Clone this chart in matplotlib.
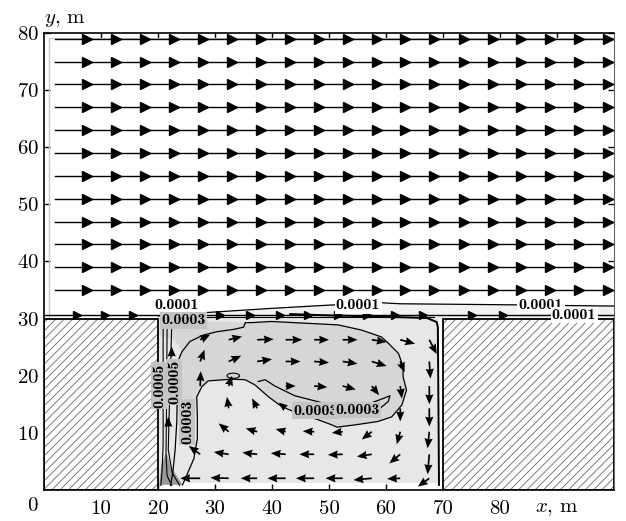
import numpy as np
import matplotlib.pyplot as plt
from matplotlib.patches import Rectangle, Polygon

plt.rcParams['font.family'] = 'serif'
plt.rcParams['font.serif'] = ['cmr10']
plt.rcParams['mathtext.fontset'] = 'cm'
plt.rcParams['axes.formatter.use_mathtext'] = True
plt.rcParams['hatch.linewidth'] = 0.6

# free-stream lines above the street canyon (y, m) and arrow marks along them (x, m)
stream_y = [79, 75, 71, 67, 63, 59, 55, 51, 47, 43, 39, 35]
stream_x0 = 1.9
stream_arrows_x = [7.6, 12.7, 17.8, 22.8, 27.9, 33.0, 38.1, 43.1, 48.2, 53.3,
                   58.4, 63.4, 68.5, 73.6, 78.7, 83.7, 88.8, 93.9, 98.9]
shear_y = 30.7
shear_arrows_x = [5.8, 10.7, 15.6, 30.9, 36.1, 41.4, 46.3, 51.6, 56.7, 61.6, 66.5, 75.1, 80.5]

# velocity vectors inside the canyon (tail points, components in m)
grid_x = [27.4, 32.4, 37.4, 42.4, 47.4, 52.4, 57.5, 62.5, 67.6]
grid_y = [26.3, 22.5, 18.2, 14.3, 10.2, 6.25, 2.05]
nan = np.nan
u = [
    [1.75, 2.34, 2.9, 2.9, 2.6, 2.6, 2.6, 2.6, 1.3],
    [0.76, 2.2, 2.6, 2.6, 2.6, 2.6, 2.6, 0.76, 0.2],
    [0.1, 0.6, nan, 1.75, 2.3, 2.3, 1.3, 0.3, 0.0],
    [nan, -0.3, -0.9, -1.2, nan, nan, nan, 0.0, 0.0],
    [nan, -1.75, -2.0, -1.75, -2.0, -1.9, -1.75, -0.6, -0.3],
    [-2.0, -2.6, -2.6, -2.6, -2.6, -2.6, -2.6, -1.9, -0.3],
    [-3.5, -3.2, -2.9, -3.2, -3.2, -3.0, -3.2, -2.3, -2.0],
]
v = [
    [0.88, 0.58, 0.1, 0.0, 0.0, 0.0, -0.4, -0.7, -2.5],
    [2.05, 1.0, 0.4, 0.0, -0.2, -0.4, -0.8, -1.9, -3.0],
    [2.6, 1.8, nan, 0.0, -0.2, -0.6, -1.6, -2.2, -3.2],
    [nan, 2.0, 1.75, 1.0, nan, nan, nan, -2.3, -3.2],
    [nan, 1.46, 0.58, 0.47, 0.1, -0.2, -1.35, -2.2, -2.9],
    [1.46, 0.4, 0.3, 0.2, 0.0, -0.1, -0.4, -1.6, -3.5],
    [0.0, 0.1, 0.0, 0.0, 0.0, 0.0, -0.3, -0.1, -1.46],
]
wall_x = [22.4, 21.8]
wall_y = [23.3, 11.0]
wall_u = [0.0, 0.0]
wall_v = [1.8, 1.8]

# concentration isolines (x, y in m)
iso_upper = [(20.0, 30.5), (27.5, 31.0), (40.0, 31.8), (50.7, 32.4), (58.8, 32.8),
             (62.5, 32.6), (83.9, 32.4), (90.5, 32.3), (100.0, 32.2)]
iso_blob = [(35.3, 29.3), (36.4, 29.3), (39.9, 29.5), (45.8, 29.2), (51.6, 28.9),
            (55.7, 28.0), (59.2, 26.8), (60.4, 25.7), (62.2, 23.9), (63.0, 21.6),
            (63.0, 19.8), (63.6, 17.5), (62.8, 14.9), (61.0, 12.8), (58.6, 12.0),
            (54.6, 11.4), (51.4, 11.0), (50.5, 11.4), (48.1, 12.3), (44.6, 13.4),
            (41.7, 14.6), (39.4, 16.3), (37.0, 18.4), (35.3, 19.3), (32.9, 19.4),
            (28.8, 19.1), (27.7, 18.1), (26.8, 16.3), (26.9, 13.0), (26.9, 9.0),
            (26.3, 5.5), (25.0, 2.5), (24.3, 0.9)]
iso_loop = [(37.6, 19.0), (38.8, 19.3), (40.5, 18.2), (44.0, 16.5), (47.5, 15.6),
            (51.1, 14.7), (55.7, 14.6), (59.2, 15.9), (60.7, 16.5), (60.4, 15.5),
            (58.6, 14.0), (56.9, 13.0)]
iso_tongue = [(35.3, 29.2), (35.0, 28.5), (33.2, 28.1), (30.3, 27.7), (27.9, 27.1),
              (25.6, 26.0), (24.2, 24.2), (23.6, 22.8), (23.4, 18.0), (23.3, 12.0),
              (23.0, 7.0), (22.6, 3.0), (22.2, 0.8)]
iso_wall = [
    [(20.9, 29.5), (20.9, 20.0), (20.9, 8.0), (20.7, 3.0), (20.5, 0.8)],
    [(21.6, 29.3), (21.5, 15.0), (21.4, 6.0), (21.6, 2.5), (22.4, 0.8)],
    [(22.4, 28.5), (22.0, 15.0), (21.8, 7.0), (22.5, 3.0), (23.8, 0.8)],
]
iso_right = [(43.2, 30.8), (48.9, 30.6), (60.7, 30.3), (67.2, 30.1), (68.9, 29.4),
             (69.1, 28.5), (69.2, 15.0), (69.3, 0.9)]
iso_corner = [(20.2, 0.9), (20.6, 4.5), (21.5, 6.5), (22.3, 4.0), (24.3, 0.9)]

# isoline labels
label_text = ['0.0001', '0.0001', '0.0001', '0.0001', '0.0003',
              '0.0005', '0.0005', '0.0003', '0.0003', '0.0003']
label_x = [23.2, 55.1, 87.2, 93.0, 24.5, 20.2, 22.8, 25.1, 47.6, 55.0]
label_y = [32.3, 32.3, 32.4, 30.6, 29.7, 18.3, 18.9, 11.9, 13.9, 14.0]
label_rot = [0, 0, 0, 0, 0, 90, 90, 90, 0, 0]

fig = plt.figure(figsize=(6.26, 5.21), dpi=100)
ax = fig.add_axes([0.0703, 0.0595, 0.9105, 0.8772])
ax.set_xlim(0, 100)
ax.set_ylim(0, 80)

# shaded regions
ax.add_patch(Polygon(iso_upper + [(100.0, 30.0), (20.0, 30.0)], closed=True,
                     fc='#f1f1f1', ec='none', zorder=1))
ax.add_patch(Rectangle((20.15, 1.2), 49.05, 29.1, fc='#e7e7e7', ec='none', zorder=1))
dark = [(20.3, 29.7)] + iso_blob[:28] + [(26.6, 13.0), (23.4, 13.0), (23.6, 22.8),
                                         (24.2, 24.2), (22.8, 26.5), (20.3, 27.0)]
ax.add_patch(Polygon(dark, closed=True, fc='#d6d6d6', ec='none', zorder=1))
ax.add_patch(Polygon(iso_corner, closed=True, fc='#9a9a9a', ec='none', zorder=1))

# buildings
for x0, w in [(0, 20), (70, 30)]:
    ax.add_patch(Rectangle((x0, 0), w, 30, fc='white', ec='#666666', lw=0,
                           hatch='////', zorder=2))
    ax.add_patch(Rectangle((x0, 0), w, 30, fill=False, ec='black', lw=1.3, zorder=3))

# computational domain border
ax.plot([0.9, 0.9, 100], [30, 79.2, 79.2], color='#c8c8c8', lw=1.0, zorder=2)

# streamlines with arrow marks
for y in stream_y:
    ax.plot([stream_x0, 100], [y, y], color='black', lw=1.0, zorder=3)
    ax.plot(stream_arrows_x, [y] * len(stream_arrows_x), ls='none', marker='>',
            ms=7, color='black', zorder=4)
ax.plot([0, 100], [shear_y, shear_y], color='black', lw=1.0, zorder=3)
ax.plot([20.5, 68.5], [30.3, 30.3], color='black', lw=0.8, zorder=3)
ax.plot(shear_arrows_x, [shear_y] * len(shear_arrows_x), ls='none', marker='>',
        ms=6, color='black', zorder=4)

# isolines
def draw_line(pts, lw=0.9):
    xs, ys = zip(*pts)
    ax.plot(xs, ys, color='black', lw=lw, zorder=3)

draw_line(iso_upper)
draw_line(iso_blob)
draw_line(iso_loop)
draw_line(iso_tongue)
for pts in iso_wall:
    draw_line(pts, lw=0.8)
draw_line(iso_right, lw=1.4)
t = np.linspace(0, 2 * np.pi, 30)
ax.plot(33.2 + 1.1 * np.cos(t), 20.0 + 0.45 * np.sin(t), color='black', lw=0.8, zorder=3)

# velocity vectors
X, Y = np.meshgrid(grid_x, grid_y)
U = np.ma.masked_invalid(np.array(u))
V = np.ma.masked_invalid(np.array(v))
qkw = dict(angles='xy', scale_units='xy', scale=1, pivot='tail', width=0.003,
           headwidth=4.8, headlength=5.8, headaxislength=5.3, color='black', zorder=4)
ax.quiver(X, Y, U, V, **qkw)
ax.quiver(wall_x, wall_y, wall_u, wall_v, **qkw)

# labels of the isolines
for s, x, y, r in zip(label_text, label_x, label_y, label_rot):
    fc = 'white' if s == '0.0001' else '#c4c4c4'
    ax.text(x, y, s, fontsize=11.5, family='cmb10', ha='center', va='center',
            rotation=r, zorder=6,
            bbox=dict(boxstyle='square,pad=0.08', fc=fc, ec='none'))

# axes
ax.set_xticks([10, 20, 30, 40, 50, 60, 70, 80, 90])
ax.set_xticklabels(['10', '20', '30', '40', '50', '60', '70', '80', r'$x$, m'])
ax.set_yticks([10, 20, 30, 40, 50, 60, 70, 80])
ax.tick_params(direction='in', length=4.5, width=1.0, top=True, right=True,
               labelsize=15)
ax.tick_params(axis='x', pad=7)
ax.tick_params(axis='y', pad=3.5)
for side in ['left', 'bottom', 'top']:
    ax.spines[side].set_linewidth(1.2)
ax.spines['right'].set_color('#666666')
ax.text(-0.021, -0.036, '0', transform=ax.transAxes, ha='center', va='center',
        fontsize=15)
ax.text(0.0, 1.022, r'$y$, m', transform=ax.transAxes, ha='left', va='baseline',
        fontsize=15)

fig.savefig('out.png', dpi=100)
